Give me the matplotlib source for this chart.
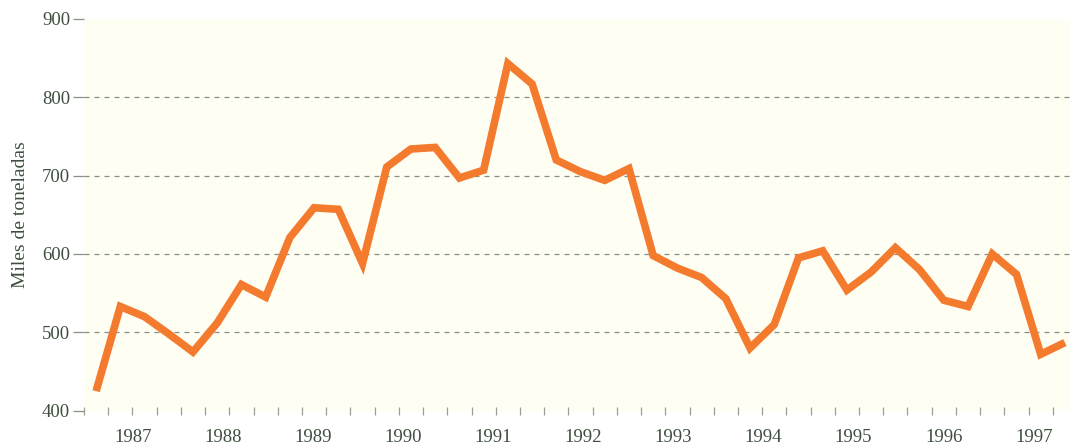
import matplotlib.pyplot as plt
import numpy as np

# Data: quarterly volumes (miles de toneladas), late 1986 to mid 1997
values = [425, 533, 520, 498, 475, 512, 561, 545, 621, 659,
          657, 588, 711, 734, 736, 697, 707, 843, 817, 720,
          705, 694, 709, 598, 582, 570, 543, 480, 510, 595,
          604, 554, 577, 608, 580, 541, 533, 600, 574, 472,
          487]
years = ["1987", "1988", "1989", "1990", "1991", "1992",
         "1993", "1994", "1995", "1996", "1997"]
y_ticks = [400, 500, 600, 700, 800, 900]

text_color = "#3f4f3f"
line_color = "#f47a2e"
bg_color = "#fefef3"

plt.rcParams["font.family"] = ["Liberation Serif", "DejaVu Serif"]

fig = plt.figure(figsize=(10.7, 4.46), dpi=100)
ax = fig.add_axes([0.0785, 0.0791, 0.9215, 0.8785])
ax.set_facecolor(bg_color)

x = np.arange(len(values))
ax.plot(x, values, color=line_color, linewidth=5.5, solid_joinstyle="miter",
        solid_capstyle="butt", zorder=3)

# dashed guide lines
for v in y_ticks[1:-1]:
    ax.axhline(v, color="#8a8f86", linewidth=0.9, dashes=(4, 4), zorder=1)

ax.set_xlim(-0.5, 40.21)
ax.set_ylim(400, 900)

for s in ax.spines.values():
    s.set_visible(False)

# quarter marks on the bottom, year labels placed separately
ax.set_xticks(np.arange(len(values)) - 0.5)
ax.set_xticklabels([])
ax.tick_params(axis="x", which="major", direction="inout", length=6,
               width=0.9, color="#9a9f96")
label_pos = 1.54 + 3.717 * np.arange(len(years))
ax.set_xticks(label_pos, minor=True)
ax.set_xticklabels(years, minor=True)
ax.tick_params(axis="x", which="minor", length=0, pad=13,
               labelsize=13.5, labelcolor=text_color)

ax.set_yticks(y_ticks)
ax.set_yticklabels([str(v) for v in y_ticks])
ax.tick_params(axis="y", direction="out", length=8, width=0.9,
               color="#8a8f86", pad=2, labelsize=13.5, labelcolor=text_color)

ax.set_ylabel("Miles de toneladas", fontsize=14, color=text_color, labelpad=9)

fig.savefig("out.png", dpi=100)
